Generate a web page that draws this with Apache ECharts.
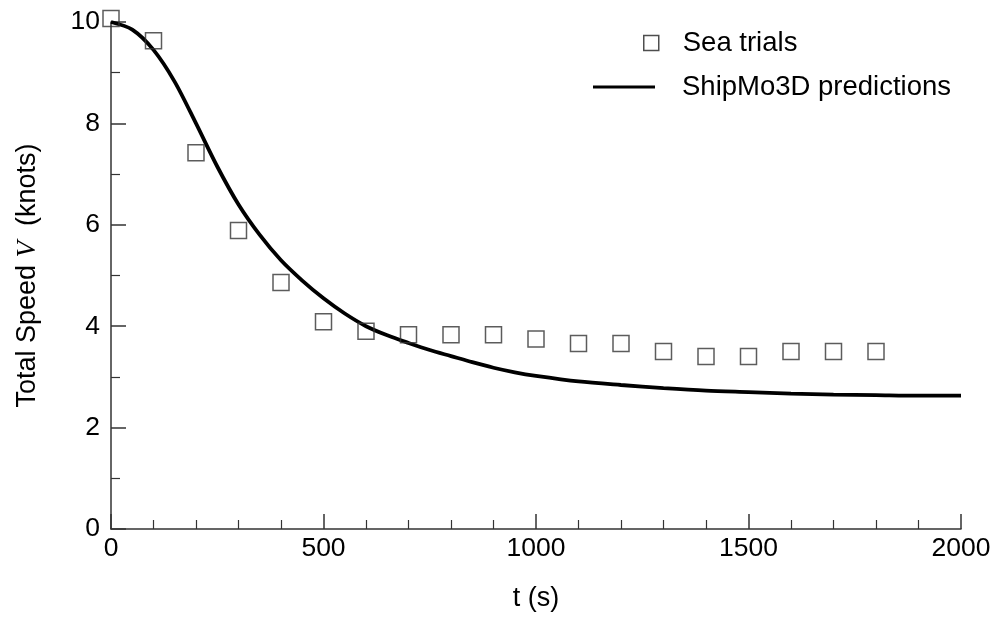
<!DOCTYPE html>
<html>
<head>
<meta charset="utf-8">
<script src="https://cdn.jsdelivr.net/npm/echarts@6/dist/echarts.min.js"></script>
<style>html,body{margin:0;padding:0;background:#fff}#c{width:995px;height:620px}</style>
</head>
<body>
<div id="c"></div>
<script>
// Sea trials measurements (t in s, V in knots)
var trialT = [0, 100, 200, 300, 400, 500, 600, 700, 800, 900, 1000, 1100, 1200, 1300, 1400, 1500, 1600, 1700, 1800];
var trialV = [10.07, 9.63, 7.42, 5.89, 4.86, 4.09, 3.90, 3.83, 3.83, 3.83, 3.75, 3.66, 3.66, 3.50, 3.40, 3.40, 3.50, 3.50, 3.50];
// ShipMo3D predictions
var predT = [0, 50, 100, 150, 200, 250, 300, 350, 400, 450, 500, 550, 600, 650, 700, 750, 800, 850, 900, 950, 1000, 1100, 1200, 1300, 1400, 1500, 1600, 1700, 1800, 1900, 2000];
var predV = [10.0, 9.85, 9.45, 8.82, 8.0, 7.15, 6.4, 5.8, 5.3, 4.9, 4.55, 4.25, 4.0, 3.82, 3.67, 3.53, 3.41, 3.29, 3.18, 3.09, 3.02, 2.91, 2.84, 2.78, 2.73, 2.70, 2.67, 2.65, 2.64, 2.63, 2.63];
var xTicks = [0, 500, 1000, 1500, 2000];
var yTicks = [0, 2, 4, 6, 8, 10];

var FONT = 'Liberation Sans';
var AXC = '#333';
function zip(a, b) { return a.map(function (v, i) { return [v, b[i]]; }); }

var chart = echarts.init(document.getElementById('c'), null, { renderer: 'canvas' });
chart.setOption({
  animation: false,
  backgroundColor: '#fff',
  textStyle: { fontFamily: FONT },
  grid: { left: 111, right: 34, top: 22, bottom: 91, containLabel: false },
  legend: [
    {
      data: ['Sea trials'], left: 643, top: 29, padding: 0, orient: 'vertical',
      itemWidth: 15, itemHeight: 15,
      itemStyle: { color: 'transparent', borderColor: '#222', borderWidth: 1.5 },
      textStyle: { fontFamily: FONT, fontSize: 27.5, lineHeight: 27, color: '#000', padding: [0, 0, 0, 19] }
    },
    {
      data: [{ name: 'ShipMo3D predictions', icon: 'rect' }], left: 593, top: 73, padding: 0, orient: 'vertical',
      itemWidth: 62, itemHeight: 3,
      itemStyle: { color: '#000', borderWidth: 0 },
      lineStyle: { color: '#000', width: 3 },
      textStyle: { fontFamily: FONT, fontSize: 27.5, lineHeight: 27, color: '#000', padding: [0, 0, 0, 22] }
    }
  ],
  xAxis: {
    type: 'value', min: xTicks[0], max: xTicks[xTicks.length - 1], interval: 500,
    name: 't (s)', nameLocation: 'middle', nameGap: 56,
    nameTextStyle: { fontFamily: FONT, fontSize: 27, color: '#000' },
    axisLine: { show: true, lineStyle: { color: AXC, width: 1.5 } },
    axisTick: { show: true, inside: true, length: 15, lineStyle: { color: AXC, width: 1.5 } },
    minorTick: { show: true, splitNumber: 5, length: 9, lineStyle: { color: AXC, width: 1.2 } },
    axisLabel: { fontFamily: FONT, fontSize: 26.5, color: '#000', margin: 6, formatter: function (v) { return String(v); } },
    splitLine: { show: false }
  },
  yAxis: {
    type: 'value', min: yTicks[0], max: yTicks[yTicks.length - 1], interval: 2,
    name: '{a|Total Speed }{v|V}{a|  (knots)}', nameLocation: 'middle', nameGap: 70, nameRotate: 90,
    nameTextStyle: {
      fontFamily: FONT, fontSize: 27, color: '#000',
      rich: {
        a: { fontFamily: FONT, fontSize: 27, color: '#000' },
        v: { fontFamily: 'Liberation Serif', fontStyle: 'italic', fontSize: 27, color: '#000' }
      }
    },
    axisLine: { show: true, lineStyle: { color: AXC, width: 1.5 } },
    axisTick: { show: true, inside: true, length: 15, lineStyle: { color: AXC, width: 1.5 } },
    minorTick: { show: true, splitNumber: 2, length: 9, lineStyle: { color: AXC, width: 1.2 } },
    axisLabel: { fontFamily: FONT, fontSize: 26.5, color: '#000', margin: 11, formatter: function (v) { return String(v); } },
    splitLine: { show: false }
  },
  series: [
    {
      name: 'ShipMo3D predictions', type: 'line', data: zip(predT, predV),
      smooth: 0.3, symbol: 'none', showSymbol: false, clip: false,
      lineStyle: { color: '#000', width: 3.8 }, z: 2
    },
    {
      name: 'Sea trials', type: 'scatter', data: zip(trialT, trialV),
      symbol: 'rect', symbolSize: 16, clip: false,
      itemStyle: { color: 'transparent', borderColor: '#333', borderWidth: 1.5 }, z: 3
    }
  ]
});
</script>
</body>
</html>
